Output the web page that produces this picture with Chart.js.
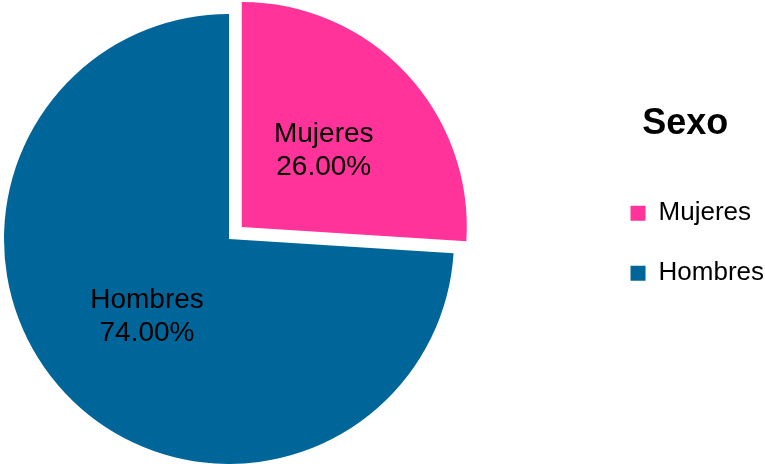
<!DOCTYPE html>
<html>
<head>
<meta charset="utf-8">
<script src="https://cdn.jsdelivr.net/npm/chart.js@4/dist/chart.umd.min.js"></script>
<style>
  body { margin: 0; background: #fff; }
  #cadre { width: 765px; height: 464px; }
</style>
</head>
<body>
<div id="cadre"><canvas id="chartSexo"></canvas></div>
<script>
const categories = ["Mujeres", "Hombres"];
const pourcentages = [26, 74];
const couleurs = ["#FF3399", "#006699"];
const titreLegende = "Sexo";

Chart.defaults.font.family = "'Liberation Sans', Arial, sans-serif";
Chart.defaults.color = "#000";

// le camembert est decale a gauche, loin de la legende
const recentrer = {
  id: "recentrer",
  afterLayout(chart) {
    const zone = chart.chartArea;
    zone.left = 4;
    zone.right = 454;
    zone.width = 450;
  }
};

// etiquettes au milieu de chaque part (nom + pourcentage)
const etiquettesParts = {
  id: "etiquettesParts",
  afterDatasetsDraw(chart) {
    const ctx = chart.ctx;
    const meta = chart.getDatasetMeta(0);
    ctx.save();
    ctx.font = "28px 'Liberation Sans', Arial, sans-serif";
    ctx.fillStyle = "#000";
    ctx.textAlign = "center";
    ctx.textBaseline = "middle";
    meta.data.forEach((arc, i) => {
      const angle = (arc.startAngle + arc.endAngle) / 2;
      const decal = (arc.options.offset || 0) / 4;
      const r = arc.outerRadius / 2 + decal;
      const x = arc.x + Math.cos(angle) * r;
      const y = arc.y + Math.sin(angle) * r;
      ctx.fillText(categories[i], x, y - 16);
      ctx.fillText(pourcentages[i].toFixed(2) + "%", x, y + 17);
    });
    ctx.restore();
  }
};

new Chart(document.getElementById("chartSexo"), {
  type: "pie",
  data: {
    labels: categories,
    datasets: [{
      data: pourcentages,
      backgroundColor: couleurs,
      borderWidth: 0,
      offset: [70, 0],
      radius: 225
    }]
  },
  options: {
    responsive: true,
    maintainAspectRatio: false,
    animation: false,
    layout: {
      padding: { left: 0, right: -9, top: 14, bottom: 0 }
    },
    plugins: {
      tooltip: { enabled: false },
      legend: {
        position: "right",
        align: "start",
        title: {
          display: true,
          text: titreLegende,
          font: { size: 36, weight: "bold" },
          padding: { top: 92, bottom: 17 }
        },
        labels: {
          boxWidth: 15,
          boxHeight: 15,
          padding: 34,
          font: { size: 26 }
        }
      }
    }
  },
  plugins: [recentrer, etiquettesParts]
});
</script>
</body>
</html>
